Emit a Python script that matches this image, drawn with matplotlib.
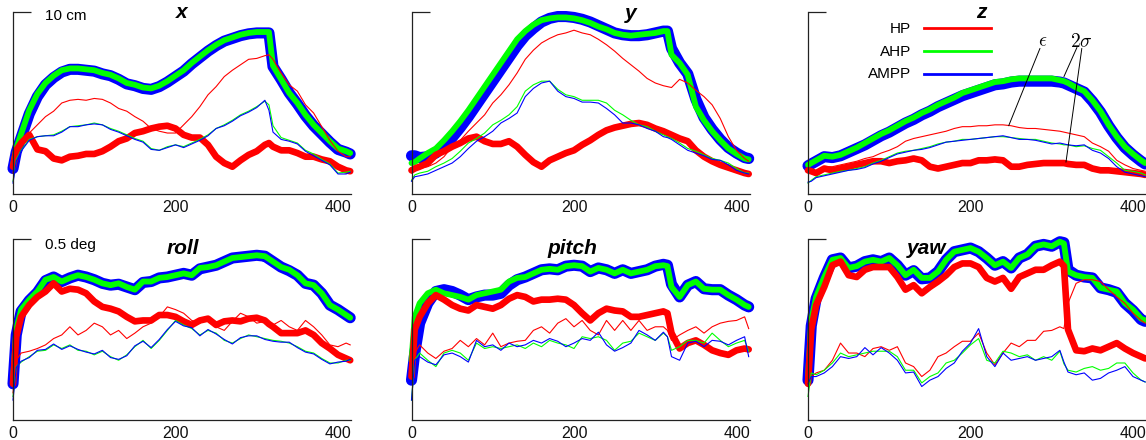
import matplotlib
matplotlib.use("Agg")
import matplotlib.pyplot as plt
from matplotlib.lines import Line2D

plt.rcParams['font.family'] = ['Liberation Sans', 'DejaVu Sans']

# time steps (shared by every series)
t = [0, 4, 10, 20, 30, 40, 50, 60, 70, 80, 90, 100, 110, 120, 130, 140, 150, 160, 170, 180,
     190, 200, 210, 220, 230, 240, 250, 260, 270, 280, 290, 300, 310, 315, 320, 330, 340, 350,
     360, 370, 380, 390, 400, 410, 415]

# values in tenths of the scale bar (10 cm for x, y, z; 0.5 deg for roll, pitch, yaw)
# eps = error, 2s = two sigma
x_hp_eps = [1.15, 2.05, 2.6, 3.35, 3.8, 4.25, 4.55, 5.0, 5.15, 5.2, 5.15, 5.25, 5.2, 5.0, 4.7, 4.55, 4.25, 4.0, 3.6, 3.45,
            3.35, 3.35, 3.8, 4.25, 4.8, 5.45, 5.9, 6.45, 6.8, 7.1, 7.4, 7.45, 7.6, 7.65, 7.4, 6.65, 6.0, 5.65,
            4.9, 4.45, 3.7, 2.95, 2.35, 2.05, 2.05]
x_ahp_eps = [0.7, 1.9, 2.4, 3.0, 3.15, 3.2, 3.25, 3.45, 3.7, 3.75, 3.8, 3.9, 3.8, 3.6, 3.45, 3.25, 3.05, 2.9, 2.5, 2.4,
             2.6, 2.7, 2.6, 2.8, 3.0, 3.25, 3.6, 3.8, 4.05, 4.35, 4.55, 4.8, 5.1, 4.9, 3.75, 3.1, 2.95, 2.8,
             2.4, 2.2, 1.9, 1.65, 1.15, 1.2, 1.25]
x_ampp_eps = [0.6, 1.8, 2.35, 2.95, 3.15, 3.2, 3.2, 3.4, 3.7, 3.7, 3.8, 3.85, 3.8, 3.55, 3.4, 3.2, 3.0, 2.85, 2.45, 2.4,
              2.55, 2.7, 2.55, 2.75, 2.95, 3.2, 3.6, 3.75, 4.0, 4.3, 4.5, 4.75, 5.15, 4.6, 3.4, 3.0, 2.9, 2.75,
              2.35, 2.1, 1.85, 1.6, 1.1, 1.1, 1.2]
x_hp_2s = [1.5, 2.4, 2.8, 3.25, 2.45, 2.35, 1.95, 1.85, 2.05, 2.1, 2.2, 2.2, 2.35, 2.6, 2.9, 3.05, 3.35, 3.45, 3.6, 3.7,
           3.75, 3.6, 3.25, 3.1, 3.1, 2.7, 2.05, 1.7, 1.5, 1.85, 2.15, 2.35, 2.7, 2.8, 2.6, 2.4, 2.4, 2.25,
           2.05, 2.05, 1.9, 1.8, 1.5, 1.3, 1.25]
x_ahp_2s = [1.6, 2.5, 3.3, 4.6, 5.5, 6.1, 6.5, 6.8, 6.9, 6.9, 6.85, 6.8, 6.65, 6.55, 6.35, 6.1, 6.0, 5.85, 5.8, 5.95,
            6.2, 6.5, 6.8, 7.2, 7.55, 7.9, 8.2, 8.45, 8.6, 8.75, 8.85, 8.9, 8.9, 8.9, 7.05, 6.3, 5.55, 5.0,
            4.35, 3.8, 3.35, 2.9, 2.5, 2.35, 2.25]
x_ampp_2s = [1.4, 2.3, 3.1, 4.4, 5.35, 6.0, 6.4, 6.7, 6.85, 6.85, 6.8, 6.75, 6.6, 6.5, 6.3, 6.05, 5.95, 5.8, 5.75, 5.9,
             6.15, 6.45, 6.75, 7.15, 7.5, 7.85, 8.15, 8.4, 8.55, 8.7, 8.8, 8.85, 8.85, 8.85, 7.0, 6.3, 5.55, 4.95,
             4.3, 3.75, 3.3, 2.85, 2.45, 2.3, 2.2]

y_hp_eps = [1.15, 1.3, 1.4, 1.5, 1.7, 2.05, 2.6, 2.95, 3.45, 3.9, 4.35, 5.0, 5.45, 6.0, 6.65, 7.4, 7.9, 8.3, 8.55, 8.75,
            8.85, 9.0, 8.85, 8.75, 8.5, 8.2, 7.85, 7.45, 7.1, 6.75, 6.35, 6.1, 5.95, 5.9, 5.85, 6.3, 6.1, 5.7,
            5.35, 4.9, 4.15, 3.15, 2.4, 1.95, 1.8]
y_ahp_eps = [0.75, 1.05, 1.15, 1.25, 1.5, 1.7, 1.95, 2.35, 2.8, 3.05, 3.35, 3.8, 4.05, 4.35, 4.8, 5.65, 6.0, 6.2, 6.2, 5.75,
             5.45, 5.35, 5.15, 5.15, 5.15, 5.0, 4.6, 4.35, 4.05, 3.8, 3.7, 3.45, 3.25, 3.15, 3.05, 2.8, 2.5, 2.35,
             2.15, 1.95, 1.85, 1.7, 1.4, 1.15, 1.15]
y_ampp_eps = [0.7, 0.95, 1.0, 1.1, 1.3, 1.5, 1.7, 2.05, 2.5, 2.9, 3.15, 3.45, 3.9, 4.15, 4.45, 5.35, 5.8, 6.1, 6.2, 5.65,
              5.35, 5.25, 5.05, 5.05, 5.0, 4.7, 4.35, 3.9, 3.9, 3.8, 3.6, 3.45, 3.15, 3.1, 3.0, 2.7, 2.4, 2.25,
              2.1, 1.9, 1.85, 1.6, 1.3, 1.15, 1.1]
y_hp_2s = [1.3, 1.4, 1.5, 1.7, 2.15, 2.35, 2.6, 2.8, 3.05, 3.15, 2.9, 2.75, 2.75, 2.9, 2.6, 2.15, 1.75, 1.5, 1.85, 2.05,
           2.25, 2.4, 2.7, 2.95, 3.25, 3.5, 3.65, 3.75, 3.85, 3.9, 3.8, 3.6, 3.45, 3.35, 3.25, 3.05, 2.9, 2.4,
           2.05, 1.8, 1.6, 1.45, 1.3, 1.15, 1.1]
y_ahp_2s = [1.7, 1.75, 1.95, 2.25, 2.5, 2.95, 3.45, 4.0, 4.6, 5.25, 5.9, 6.55, 7.2, 7.85, 8.5, 8.95, 9.3, 9.55, 9.65, 9.7,
            9.7, 9.65, 9.55, 9.4, 9.2, 9.05, 8.85, 8.75, 8.7, 8.75, 8.8, 8.85, 8.95, 8.95, 7.65, 7.2, 6.55, 4.8,
            4.05, 3.45, 2.95, 2.5, 2.2, 1.95, 1.9]
y_ampp_2s = [2.1, 2.1, 2.0, 2.05, 2.25, 2.65, 3.1, 3.65, 4.25, 4.9, 5.55, 6.2, 6.85, 7.5, 8.15, 8.7, 9.1, 9.45, 9.65, 9.75,
             9.75, 9.7, 9.6, 9.45, 9.25, 9.05, 8.85, 8.75, 8.7, 8.7, 8.75, 8.85, 8.95, 8.95, 8.0, 7.2, 6.6, 5.2,
             4.2, 3.55, 3.0, 2.55, 2.25, 2.0, 1.95]

z_hp_eps = [1.25, 1.15, 1.3, 1.5, 1.5, 1.6, 1.7, 1.8, 1.95, 2.05, 2.25, 2.4, 2.6, 2.9, 3.05, 3.15, 3.25, 3.35, 3.45, 3.6,
            3.7, 3.7, 3.75, 3.75, 3.8, 3.8, 3.75, 3.65, 3.6, 3.6, 3.55, 3.5, 3.45, 3.4, 3.35, 3.25, 3.15, 2.8,
            2.6, 2.35, 1.85, 1.6, 1.4, 1.3, 1.25]
z_ahp_eps = [0.6, 0.75, 0.95, 1.05, 1.15, 1.25, 1.3, 1.4, 1.5, 1.7, 1.85, 2.05, 2.25, 2.35, 2.4, 2.5, 2.6, 2.75, 2.85, 2.9,
             3.0, 3.0, 3.05, 3.1, 3.15, 3.15, 3.1, 3.05, 3.0, 3.0, 2.9, 2.8, 2.75, 2.7, 2.7, 2.6, 2.65, 2.5,
             2.4, 2.05, 1.7, 1.3, 1.25, 1.15, 1.05]
z_ampp_eps = [0.65, 0.7, 0.9, 1.0, 1.1, 1.2, 1.3, 1.35, 1.45, 1.65, 1.8, 2.0, 2.2, 2.3, 2.4, 2.45, 2.55, 2.7, 2.85, 2.9,
              2.95, 3.0, 3.05, 3.1, 3.15, 3.2, 3.1, 3.0, 3.0, 2.95, 2.85, 2.75, 2.8, 2.75, 2.7, 2.65, 2.7, 2.4,
              2.25, 1.95, 1.5, 1.2, 1.1, 1.0, 0.95]
z_hp_2s = [1.3, 1.25, 1.15, 1.4, 1.3, 1.4, 1.5, 1.6, 1.7, 1.8, 1.8, 1.7, 1.8, 1.85, 1.95, 1.85, 1.5, 1.4, 1.5, 1.6,
           1.7, 1.7, 1.85, 1.85, 1.9, 1.85, 1.5, 1.5, 1.6, 1.65, 1.7, 1.7, 1.7, 1.7, 1.65, 1.6, 1.6, 1.4,
           1.3, 1.3, 1.25, 1.2, 1.15, 1.1, 1.05]
z_ahp_2s = [1.6, 1.7, 1.85, 2.1, 2.05, 2.15, 2.35, 2.55, 2.8, 3.05, 3.3, 3.5, 3.75, 4.0, 4.2, 4.45, 4.65, 4.9, 5.1, 5.3,
            5.55, 5.7, 5.85, 6.0, 6.15, 6.2, 6.3, 6.35, 6.35, 6.35, 6.35, 6.35, 6.25, 6.2, 6.1, 5.85, 5.65, 5.15,
            4.55, 3.8, 3.15, 2.6, 2.2, 1.85, 1.7]
z_ampp_2s = [1.55, 1.65, 1.8, 2.05, 2.0, 2.1, 2.3, 2.5, 2.7, 2.95, 3.2, 3.4, 3.65, 3.9, 4.1, 4.35, 4.55, 4.8, 5.0, 5.2,
             5.4, 5.55, 5.7, 5.85, 6.0, 6.05, 6.15, 6.2, 6.2, 6.2, 6.2, 6.2, 6.15, 6.1, 6.0, 5.8, 5.6, 5.1,
             4.5, 3.75, 3.1, 2.55, 2.15, 1.8, 1.65]

roll_hp_eps = [1.5, 3.3, 3.7, 3.8, 3.95, 4.15, 4.5, 4.7, 5.15, 4.7, 4.95, 5.35, 5.15, 4.7, 4.95, 4.5, 4.8, 5.15, 5.35, 5.7,
               6.25, 6.1, 5.9, 5.5, 5.35, 5.6, 5.15, 4.95, 5.45, 5.9, 5.7, 5.35, 5.45, 5.2, 5.25, 5.5, 5.15, 4.95,
               5.5, 5.15, 4.7, 4.15, 4.05, 4.25, 4.15]
roll_ahp_eps = [1.3, 2.95, 3.2, 3.5, 3.8, 3.85, 4.15, 3.95, 4.15, 3.85, 3.8, 3.6, 3.8, 3.5, 3.3, 3.6, 4.05, 4.4, 3.95, 4.4,
                4.95, 5.5, 5.25, 5.05, 4.7, 4.95, 4.8, 4.4, 4.25, 4.5, 4.7, 4.6, 4.5, 4.45, 4.4, 4.35, 4.25, 4.05,
                3.8, 3.7, 3.4, 3.15, 3.15, 3.3, 3.3]
roll_ampp_eps = [1.1, 2.9, 3.25, 3.45, 3.85, 3.9, 4.2, 3.9, 4.1, 3.9, 3.75, 3.65, 3.85, 3.45, 3.35, 3.55, 4.1, 4.35, 4.0, 4.45,
                 5.0, 5.45, 5.2, 5.1, 4.65, 5.0, 4.75, 4.45, 4.2, 4.55, 4.65, 4.65, 4.45, 4.4, 4.35, 4.3, 4.3, 4.0,
                 3.75, 3.65, 3.35, 3.1, 3.2, 3.25, 3.35]
roll_hp_2s = [2.0, 4.6, 5.7, 6.35, 6.8, 7.1, 7.55, 7.1, 7.25, 7.2, 7.0, 6.55, 6.25, 6.15, 6.0, 5.7, 5.45, 5.5, 5.5, 5.8,
              5.8, 5.7, 5.45, 5.25, 5.5, 5.6, 5.25, 5.45, 5.5, 5.45, 5.6, 5.65, 5.5, 5.3, 5.15, 4.8, 4.8, 4.8,
              4.95, 4.7, 4.25, 3.95, 3.6, 3.4, 3.3]
roll_ahp_2s = [2.2, 5.0, 6.1, 6.65, 7.1, 7.75, 7.9, 7.65, 7.85, 8.0, 7.9, 7.75, 7.55, 7.45, 7.55, 7.35, 7.2, 7.65, 7.65, 7.85,
               7.9, 8.0, 8.1, 8.0, 8.4, 8.45, 8.55, 8.75, 8.95, 9.0, 9.05, 9.1, 9.05, 8.9, 8.75, 8.45, 8.3, 8.0,
               7.55, 7.45, 7.0, 6.35, 6.1, 5.8, 5.65]
roll_ampp_2s = [2.0, 4.7, 6.0, 6.6, 7.05, 7.7, 7.9, 7.65, 7.85, 8.0, 7.9, 7.75, 7.55, 7.45, 7.5, 7.35, 7.2, 7.6, 7.65, 7.85,
                7.9, 8.0, 8.1, 8.0, 8.35, 8.45, 8.55, 8.75, 8.95, 9.0, 9.05, 9.1, 9.05, 8.9, 8.75, 8.45, 8.25, 8.0,
                7.55, 7.45, 7.0, 6.35, 6.1, 5.8, 5.65]

pitch_hp_eps = [2.95, 3.7, 4.15, 3.7, 3.4, 3.8, 3.95, 4.4, 4.05, 4.5, 4.15, 4.8, 4.05, 4.25, 4.35, 4.4, 4.95, 5.15, 4.8, 5.35,
                5.6, 5.15, 5.5, 4.95, 4.7, 5.5, 4.95, 5.5, 4.95, 5.5, 4.95, 5.15, 5.15, 4.95, 4.4, 4.7, 4.95, 5.15,
                4.8, 5.15, 5.35, 5.45, 5.5, 5.7, 5.05]
pitch_ahp_eps = [1.1, 3.3, 3.7, 3.3, 2.95, 3.7, 3.85, 3.7, 3.3, 4.25, 3.95, 4.05, 3.95, 4.05, 4.15, 3.95, 4.25, 4.05, 4.4, 4.25,
                 4.15, 3.95, 4.6, 4.5, 4.6, 4.4, 3.85, 4.25, 4.35, 4.8, 4.6, 4.4, 4.8, 4.6, 3.85, 4.05, 4.4, 4.4,
                 4.25, 4.8, 4.4, 4.05, 4.25, 4.4, 3.8]
pitch_ampp_eps = [1.1, 3.3, 3.5, 3.2, 3.05, 3.6, 3.7, 3.5, 3.2, 4.4, 4.05, 4.15, 3.85, 4.25, 4.05, 4.15, 4.4, 4.25, 4.5, 4.35,
                  4.05, 4.25, 4.5, 4.4, 4.85, 4.15, 3.8, 4.0, 4.25, 4.95, 4.7, 4.4, 4.85, 4.6, 3.5, 3.3, 4.25, 4.35,
                  4.05, 4.4, 4.35, 4.15, 4.4, 4.6, 3.5]
pitch_hp_2s = [2.4, 5.0, 5.7, 6.45, 6.9, 6.65, 6.35, 6.15, 6.05, 6.35, 6.25, 6.15, 6.35, 6.7, 6.9, 6.8, 6.55, 6.65, 6.65, 6.7,
               6.65, 6.35, 5.9, 5.5, 5.9, 6.15, 6.05, 6.0, 5.7, 5.7, 5.8, 5.9, 6.0, 5.9, 4.8, 3.95, 4.25, 4.4,
               4.15, 3.85, 3.7, 3.6, 3.85, 3.95, 3.9]
pitch_ahp_2s = [3.3, 5.7, 6.45, 7.0, 7.2, 7.0, 6.9, 6.8, 6.65, 6.9, 7.0, 7.1, 7.2, 7.65, 7.85, 7.9, 8.1, 8.3, 8.35, 8.3,
                8.5, 8.55, 8.5, 8.2, 8.4, 8.3, 8.1, 8.3, 8.1, 8.2, 8.3, 8.5, 8.55, 8.5, 7.35, 6.8, 7.45, 7.65,
                7.25, 7.2, 7.2, 6.9, 6.65, 6.35, 6.25]
pitch_ampp_2s = [2.2, 3.7, 5.35, 6.45, 7.1, 7.2, 7.1, 6.9, 6.65, 6.8, 6.9, 6.9, 7.0, 7.45, 7.75, 7.9, 8.1, 8.3, 8.35, 8.3,
                 8.5, 8.55, 8.5, 8.2, 8.4, 8.3, 8.1, 8.3, 8.1, 8.2, 8.3, 8.5, 8.6, 8.55, 7.5, 6.8, 7.45, 7.65,
                 7.25, 7.2, 7.2, 6.9, 6.65, 6.35, 6.25]

yaw_hp_eps = [1.85, 2.4, 2.6, 2.75, 3.3, 4.25, 3.7, 3.7, 3.5, 3.95, 4.05, 3.85, 4.05, 3.15, 2.95, 2.4, 2.75, 3.5, 3.7, 4.05,
              4.35, 4.35, 4.8, 3.7, 3.05, 3.7, 4.25, 4.05, 4.4, 4.4, 4.9, 4.95, 5.15, 5.05, 6.45, 7.55, 7.75, 7.75,
              7.65, 7.2, 6.8, 6.45, 5.9, 5.5, 5.35]
yaw_ahp_eps = [1.3, 2.6, 2.5, 2.75, 3.15, 3.7, 3.5, 3.6, 3.7, 3.8, 3.8, 3.8, 3.5, 2.75, 2.75, 2.05, 2.4, 2.6, 3.15, 3.3,
               3.7, 4.15, 4.5, 3.3, 3.15, 3.8, 3.7, 3.5, 3.6, 3.3, 3.5, 3.3, 3.8, 3.1, 2.75, 2.65, 2.85, 2.95,
               2.75, 2.85, 3.15, 3.15, 2.6, 2.2, 2.1]
yaw_ampp_eps = [2.0, 2.4, 2.4, 2.6, 2.95, 3.5, 3.4, 3.5, 4.0, 3.6, 4.0, 3.7, 3.3, 2.6, 2.65, 1.85, 2.2, 2.4, 2.85, 3.15,
                3.8, 4.25, 5.05, 3.5, 2.95, 3.7, 3.3, 3.4, 3.5, 3.3, 3.4, 3.5, 3.85, 3.2, 2.65, 2.5, 2.6, 2.2,
                2.3, 2.6, 2.75, 2.95, 2.4, 2.2, 2.1]
yaw_hp_2s = [2.0, 5.0, 6.35, 7.35, 8.55, 8.75, 8.0, 7.9, 8.3, 8.45, 8.45, 8.45, 7.9, 7.2, 7.45, 7.0, 7.35, 7.65, 8.0, 8.45,
             8.65, 8.65, 8.45, 7.85, 7.65, 7.85, 7.25, 7.9, 8.1, 8.3, 8.3, 8.55, 8.75, 8.5, 5.0, 3.85, 3.8, 3.95,
             3.85, 4.05, 4.25, 3.95, 3.7, 3.5, 3.4]
yaw_ahp_2s = [2.4, 5.5, 6.8, 7.9, 8.85, 8.95, 8.4, 8.5, 8.75, 8.85, 8.75, 8.95, 8.55, 8.0, 8.3, 7.85, 7.85, 8.2, 8.85, 9.3,
              9.4, 9.5, 9.3, 8.95, 8.55, 8.75, 8.4, 8.95, 9.15, 9.6, 9.7, 9.6, 9.85, 9.75, 8.2, 8.0, 7.9, 7.85,
              7.3, 7.2, 7.1, 6.45, 6.1, 5.6, 5.5]
yaw_ampp_2s = [2.2, 5.2, 6.7, 7.85, 8.85, 8.95, 8.4, 8.5, 8.75, 8.85, 8.75, 8.95, 8.55, 8.0, 8.25, 7.8, 7.85, 8.2, 8.85, 9.3,
               9.4, 9.5, 9.3, 8.95, 8.55, 8.75, 8.4, 8.95, 9.15, 9.6, 9.7, 9.6, 9.85, 9.8, 8.3, 8.0, 7.9, 7.85,
               7.3, 7.2, 7.05, 6.45, 6.05, 5.55, 5.45]

titles = ['x', 'y', 'z', 'roll', 'pitch', 'yaw']
scale_labels = ['10 cm', None, None, '0.5 deg', None, None]
methods = ['HP', 'AHP', 'AMPP']
colors = ['#ff0000', '#00ff00', '#0000ff']

eps_data = [
    [x_hp_eps, x_ahp_eps, x_ampp_eps],
    [y_hp_eps, y_ahp_eps, y_ampp_eps],
    [z_hp_eps, z_ahp_eps, z_ampp_eps],
    [roll_hp_eps, roll_ahp_eps, roll_ampp_eps],
    [pitch_hp_eps, pitch_ahp_eps, pitch_ampp_eps],
    [yaw_hp_eps, yaw_ahp_eps, yaw_ampp_eps],
]
sig_data = [
    [x_hp_2s, x_ahp_2s, x_ampp_2s],
    [y_hp_2s, y_ahp_2s, y_ampp_2s],
    [z_hp_2s, z_ahp_2s, z_ampp_2s],
    [roll_hp_2s, roll_ahp_2s, roll_ampp_2s],
    [pitch_hp_2s, pitch_ahp_2s, pitch_ampp_2s],
    [yaw_hp_2s, yaw_ahp_2s, yaw_ampp_2s],
]

W, H = 1146, 440
fig = plt.figure(figsize=(W / 100, H / 100), dpi=100)

# axes boxes in pixels: left, bottom, width, height
col_left = [13, 411.5, 808]
row_box = [(246, 182), (20, 181)]
# title placement (axes fraction x, baseline y)
title_pos = [(0.50, 0.967), (0.648, 0.962), (0.512, 0.967),
             (0.503, 0.917), (0.476, 0.917), (0.352, 0.917)]

axes = []
for i in range(6):
    r, c = divmod(i, 3)
    b, h = row_box[r]
    ax = fig.add_axes([col_left[c] / W, b / H, 338 / W, h / H])
    axes.append(ax)

    hp2, ahp2, ampp2 = sig_data[i]
    hp, ahp, ampp = eps_data[i]
    kw = dict(solid_capstyle='round', solid_joinstyle='round', clip_on=False)
    # 2 sigma: thick lines
    ax.plot(t, ampp2, color=colors[2], lw=8.0, **kw)
    ax.plot(t, ahp2, color=colors[1], lw=4.2, **kw)
    ax.plot(t, hp2, color=colors[0], lw=4.8, **kw)
    # errors: thin lines
    ax.plot(t, hp, color=colors[0], lw=0.8, clip_on=False)
    ax.plot(t, ahp, color=colors[1], lw=0.8, clip_on=False)
    ax.plot(t, ampp, color=colors[2], lw=0.8, clip_on=False)

    ax.set_xlim(0, 416)
    ax.set_ylim(0, 10)
    for s in ['top', 'right']:
        ax.spines[s].set_visible(False)
    for s in ['left', 'bottom']:
        ax.spines[s].set_color('#222222')
        ax.spines[s].set_linewidth(0.9)
    ax.set_xticks([0, 200, 400])
    ax.tick_params(axis='x', length=0, pad=4, labelsize=11.5, colors='#111111')
    ax.set_yticks([10])
    ax.set_yticklabels([])
    ax.tick_params(axis='y', direction='in', length=13, width=0.9, color='#222222')

    tx, ty = title_pos[i]
    ax.text(tx, ty, titles[i], transform=ax.transAxes, ha='center', va='baseline',
            fontsize=15, fontweight='bold', fontstyle='italic')
    if scale_labels[i]:
        ax.text(0.095, 0.956 if r == 0 else 0.945, scale_labels[i], transform=ax.transAxes,
                ha='left', va='baseline', fontsize=11)

# legend in the z panel
axz = axes[2]
leg_y = [0.906, 0.782, 0.658]
for name, col, yy in zip(methods, colors, leg_y):
    axz.text(0.305, yy, name, transform=axz.transAxes, ha='right', va='center', fontsize=11)
    axz.add_line(Line2D([0.343, 0.541], [yy + 0.004, yy + 0.004], transform=axz.transAxes,
                        color=col, lw=2.0))

# epsilon / 2 sigma callouts
line_kw = dict(arrowstyle='-', color='black', lw=0.7, shrinkA=0, shrinkB=0)
axz.text(288.5, 8.35, r'$\epsilon$', ha='center', va='center', fontsize=14, math_fontfamily='cm')
axz.text(336.5, 8.35, r'$2\sigma$', ha='center', va='center', fontsize=14, math_fontfamily='cm')
axz.annotate('', xy=(247, 3.75), xytext=(285.5, 8.0), arrowprops=line_kw)
axz.annotate('', xy=(315, 6.45), xytext=(331, 8.05), arrowprops=line_kw)
axz.annotate('', xy=(317.5, 1.75), xytext=(337, 8.0), arrowprops=line_kw)

fig.savefig('out.png', dpi=100)
